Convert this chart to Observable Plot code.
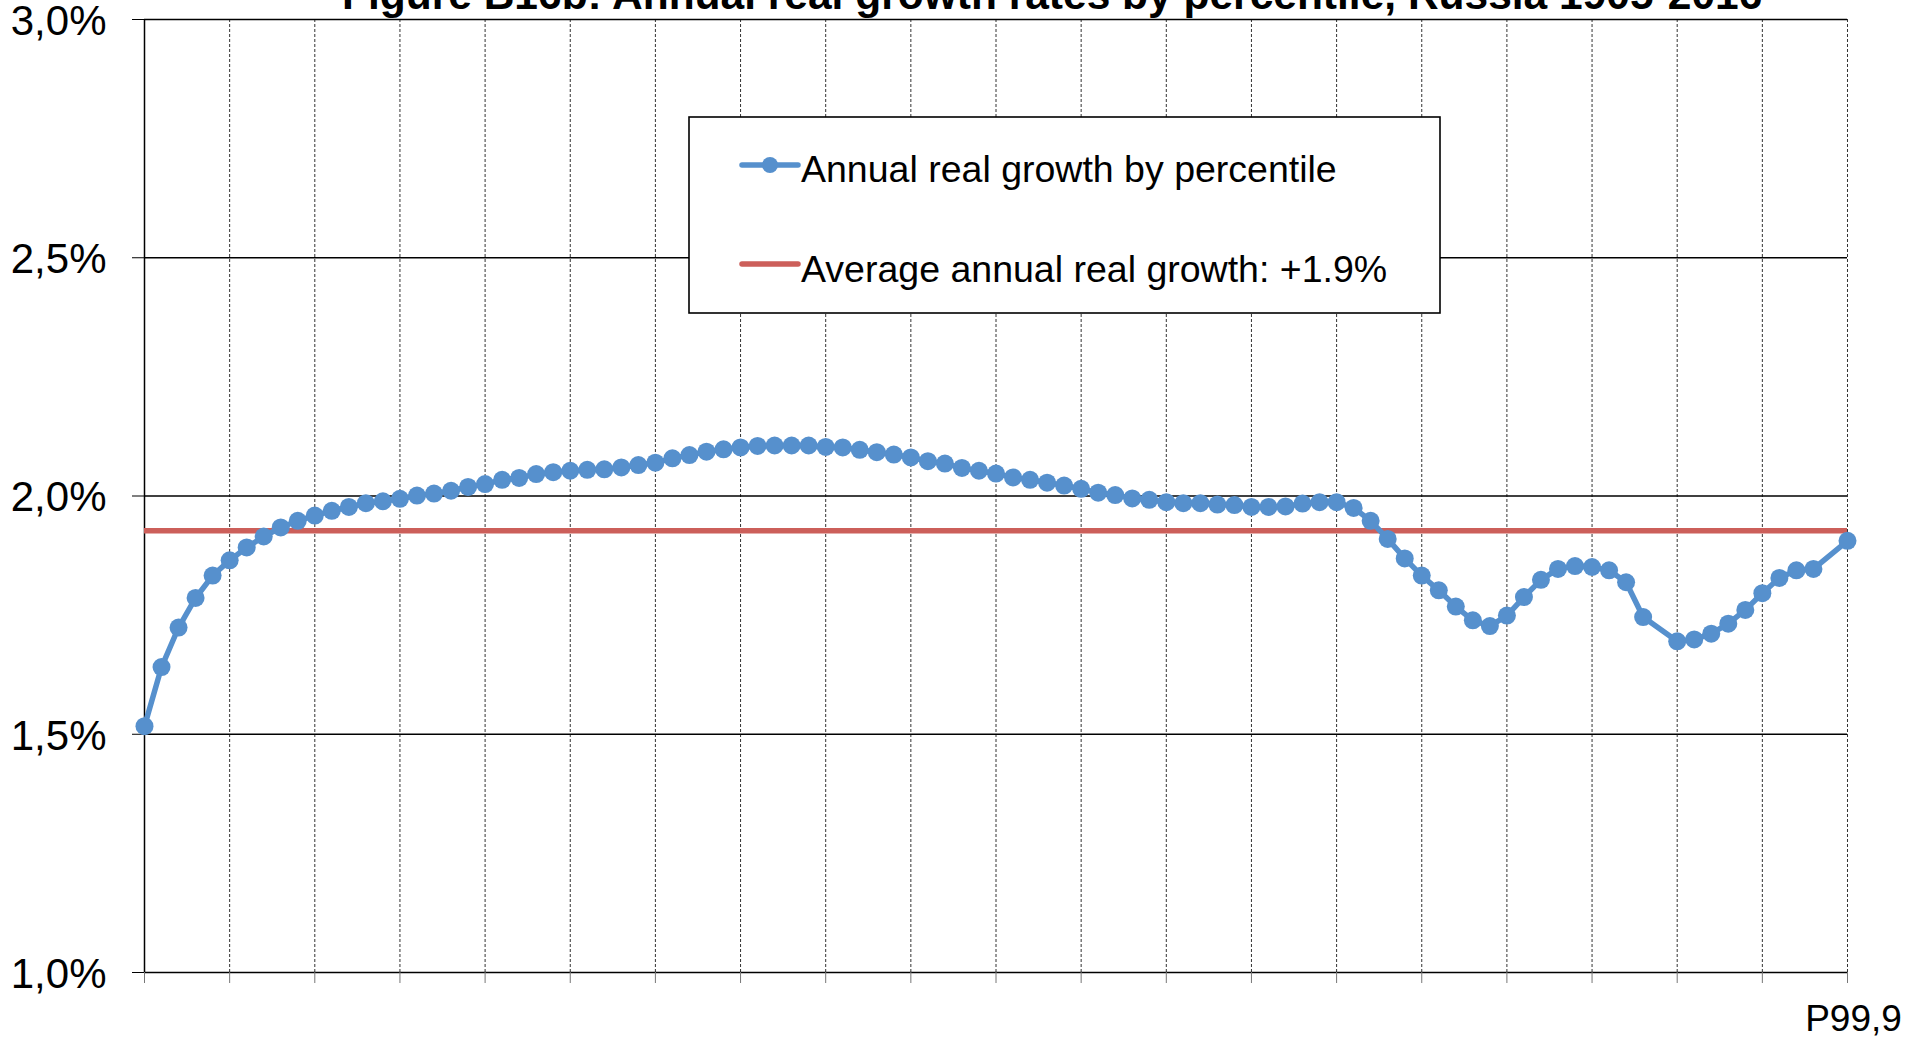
<!DOCTYPE html>
<html>
<head>
<meta charset="utf-8">
<script src="https://cdn.jsdelivr.net/npm/d3@7"></script>
<script src="https://cdn.jsdelivr.net/npm/@observablehq/plot@0.6"></script>
<style>
  body { margin: 0; background: #fff; overflow: hidden; }
  #wrap { position: relative; width: 1916px; height: 1040px; font-family: "Liberation Sans", Arial, sans-serif; }
  #chart svg { overflow: visible; }
  #title { position: absolute; left: 342px; top: -26px; font-size: 42.5px; font-weight: bold; line-height: 1; white-space: nowrap; color: #000; }
  #legend { position: absolute; left: 688px; top: 116px; }
</style>
</head>
<body>
<div id="wrap">
  <div id="chart"></div>
  <div id="title"></div>
  <div id="legend"></div>
</div>
<script>
// ---- data ----
const titleText = "Figure B16b: Annual real growth rates by percentile, Russia 1905-2016";
const seriesNames = ["Annual real growth by percentile", "Average annual real growth: +1.9%"];
const seriesColors = ["#5690CD", "#CC5F5A"];
// growth (%) at each percentile position 0..100 (null = no point)
const growth = [
  1.517, 1.641, 1.724, 1.786, 1.833, 1.865, 1.892, 1.915, 1.934, 1.948,
  1.959, 1.969, 1.977, 1.985, 1.989, 1.994, 2.001, 2.005, 2.011, 2.019,
  2.025, 2.034, 2.038, 2.046, 2.050, 2.053, 2.055, 2.056, 2.060, 2.065,
  2.070, 2.079, 2.086, 2.093, 2.098, 2.102, 2.105, 2.106, 2.106, 2.106,
  2.103, 2.102, 2.097, 2.092, 2.087, 2.081, 2.073, 2.068, 2.059, 2.053,
  2.047, 2.039, 2.034, 2.028, 2.022, 2.015, 2.007, 2.002, 1.995, 1.992,
  1.987, 1.985, 1.985, 1.982, 1.981, 1.977, 1.977, 1.978, 1.984, 1.987,
  1.987, 1.975, 1.948, 1.910, 1.869, 1.833, 1.802, 1.768, 1.739, 1.727,
  1.749, 1.788, 1.824, 1.847, 1.853, 1.851, 1.844, 1.819, 1.746, null,
  1.695, 1.699, 1.711, 1.732, 1.761, 1.796, 1.828, 1.844, 1.847, null,
  1.906
];
const averageGrowth = 1.927;
const xTicks = [0, 5, 10, 15, 20, 25, 30, 35, 40, 45, 50, 55, 60, 65, 70, 75, 80, 85, 90, 95, 100];
const xTickLabels = { 100: "P99,9" };
const yTicks = [1.0, 1.5, 2.0, 2.5, 3.0];

const points = growth.map((g, i) => ({ i, g })).filter(d => d.g != null);
const xMax = growth.length - 1;

const fmtY = d => d.toFixed(1).replace(".", ",") + "%";
const blank = () => "";

const chart = Plot.plot({
  width: 1916,
  height: 1040,
  marginLeft: 144,
  marginRight: 69,
  marginTop: 19,
  marginBottom: 68,
  style: { fontFamily: "'Liberation Sans', Arial, sans-serif", background: "#fff", color: "#000", overflow: "visible" },
  x: { domain: [0, xMax] },
  y: { domain: [1.0, 3.0] },
  marks: [
    Plot.gridX(xTicks.filter(t => t > 0), { stroke: "#333", strokeOpacity: 1, strokeWidth: 1, strokeDasharray: "3,2" }),
    Plot.gridY(yTicks, { stroke: "#000", strokeOpacity: 1, strokeWidth: 1.3 }),
    Plot.ruleX([0], { y1: 1.0, y2: 3.0, stroke: "#000", strokeWidth: 1.5 }),
    // y ticks and labels
    Plot.axisY({ ticks: yTicks, tickFormat: blank, tickSize: 12, label: null, stroke: "#000" }),
    Plot.axisY({ ticks: yTicks, tickFormat: fmtY, tickSize: 0, tickPadding: 38, fontSize: 42, dy: 2, label: null }),
    // x ticks and labels
    Plot.axisX({ ticks: xTicks, tickFormat: blank, tickSize: 11, label: null, stroke: "#777" }),
    Plot.axisX({ ticks: xTicks, tickFormat: t => xTickLabels[t] ?? "", tickSize: 0, tickPadding: 32, fontSize: 37, dx: 6, label: null }),
    Plot.ruleY([averageGrowth], { x1: 0, x2: xMax, stroke: seriesColors[1], strokeWidth: 5.5 }),
    Plot.line(points, { x: "i", y: "g", stroke: seriesColors[0], strokeWidth: 5.5 }),
    Plot.dot(points, { x: "i", y: "g", r: 9, fill: seriesColors[0], stroke: "none" })
  ]
});
document.getElementById("chart").appendChild(chart);

document.getElementById("title").textContent = titleText;

// legend box
const lg = d3.select("#legend").append("svg").attr("width", 754).attr("height", 199)
  .style("font-family", "'Liberation Sans', Arial, sans-serif");
lg.append("rect").attr("x", 1).attr("y", 1).attr("width", 751).attr("height", 196)
  .attr("fill", "#fff").attr("stroke", "#000").attr("stroke-width", 1.6);
const rows = [{ y: 49, base: 66 }, { y: 148, base: 166 }];
rows.forEach((r, k) => {
  lg.append("line").attr("x1", 54).attr("x2", 110).attr("y1", r.y).attr("y2", r.y)
    .attr("stroke", seriesColors[k]).attr("stroke-width", 5.5).attr("stroke-linecap", "round");
  if (k === 0) lg.append("circle").attr("cx", 82).attr("cy", r.y).attr("r", 8).attr("fill", seriesColors[0]);
  lg.append("text").attr("x", 113).attr("y", r.base).attr("font-size", 37.5).attr("fill", "#000").text(seriesNames[k]);
});
</script>
</body>
</html>
